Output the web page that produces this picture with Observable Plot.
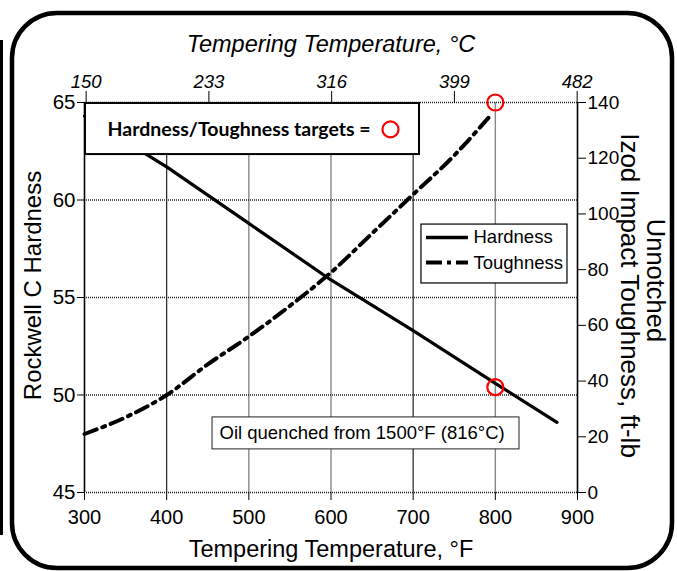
<!DOCTYPE html>
<html><head><meta charset="utf-8">
<script src="https://cdn.jsdelivr.net/npm/d3@7"></script>
<script src="https://cdn.jsdelivr.net/npm/@observablehq/plot@0.6"></script>
<style>body{margin:0;background:#fff} #chart svg{display:block}</style>
</head><body><div id="chart"></div>
<script>
// ---- data ----
const hardTempF = [300, 400, 500, 600, 700, 800, 875];
const hardness = [64.3, 61.7, 58.8, 55.9, 53.3, 50.6, 48.6];
const toughTempF = [300, 350, 400, 450, 500, 550, 600, 650, 700, 750, 793];
const toughness = [21, 27, 35, 46, 56, 67, 79, 93, 107, 121, 135];
const targetTempF = [800, 800];
const targetHardness = [50.4, null];
const targetToughness = [null, 140];
const xTicksF = [300, 400, 500, 600, 700, 800, 900];
const topTicksC = [150, 233, 316, 399, 482];
const hardTicks = [45, 50, 55, 60, 65];
const toughTicks = [0, 20, 40, 60, 80, 100, 120, 140];
const seriesNames = ["Hardness", "Toughness"];
const targetLabel = "Hardness/Toughness targets =";
const noteText = "Oil quenched from 1500°F (816°C)";

// toughness (0..140) drawn on the hardness scale (45..65)
const t2h = t => 45 + t / 7;
const h2t = h => (h - 45) * 7;
const c2f = c => c * 9 / 5 + 32;
const f2c = f => (f - 32) * 5 / 9;

const hardData = hardTempF.map((f, i) => ({f, v: hardness[i]}));
const toughData = toughTempF.map((f, i) => ({f, v: t2h(toughness[i])}));
const targetData = targetTempF.map((f, i) => ({f, v: targetHardness[i] != null ? targetHardness[i] : t2h(targetToughness[i])}));

// annotation placement (data units)
const boxTop = {x1: 301.2, x2: 707.7, y1: 64.95, y2: 62.33, tx: 328, ty: 63.62, cx: 672.4};
const boxLegend = {x1: 710.1, x2: 887.8, y1: 58.74, y2: 55.72, lx1: 716.2, lx2: 767.3, tx: 773.4, y: [58.08, 56.79]};
const boxNote = {x1: 455.8, x2: 829.4, y1: 48.85, y2: 47.21, tx: 464.3, ty: 48.03};

const font = "Liberation Sans";

const chart = Plot.plot({
  width: 677, height: 571,
  marginLeft: 84, marginRight: 100, marginTop: 102, marginBottom: 79,
  style: {fontFamily: font, fontSize: "19px", color: "#000", background: "transparent", overflow: "visible"},
  x: {domain: [300, 900]},
  y: {domain: [45, 65]},
  marks: [
    Plot.ruleX([400, 700], {stroke: "#222", strokeWidth: 1.2}),
    Plot.ruleX([500, 600, 800], {stroke: "#888", strokeWidth: 1.4}),
    Plot.ruleY(hardTicks, {stroke: "#222", strokeWidth: 1.4, strokeDasharray: "1,1"}),
    Plot.ruleX([300, 900], {stroke: "#000", strokeWidth: 1.6}),
    Plot.line(hardData, {x: "f", y: "v", stroke: "#000", strokeWidth: 3.2}),
    Plot.line(toughData, {x: "f", y: "v", stroke: "#000", strokeWidth: 4, strokeDasharray: "13,6,3,6", curve: "monotone-x"}),
    Plot.dot(targetData, {x: "f", y: "v", r: 8, stroke: "#f00", strokeWidth: 2.2, fill: "none"}),
    // targets box
    Plot.rect([boxTop], {x1: "x1", x2: "x2", y1: "y1", y2: "y2", fill: "#fff", stroke: "#000", strokeWidth: 2}),
    Plot.text([targetLabel], {x: boxTop.tx, y: boxTop.ty, textAnchor: "start", fontFamily: "Lato", fontWeight: "bold", fontSize: 19.5, fill: "#000"}),
    Plot.dot([0], {x: boxTop.cx, y: boxTop.ty, r: 8, stroke: "#f00", strokeWidth: 2.2, fill: "none"}),
    // legend
    Plot.rect([boxLegend], {x1: "x1", x2: "x2", y1: "y1", y2: "y2", fill: "#fff", stroke: "#000", strokeWidth: 1.2}),
    Plot.ruleY([boxLegend.y[0]], {x1: boxLegend.lx1, x2: boxLegend.lx2, stroke: "#000", strokeWidth: 3.5}),
    Plot.ruleY([boxLegend.y[1]], {x1: boxLegend.lx1, x2: boxLegend.lx2, stroke: "#000", strokeWidth: 4, strokeDasharray: "16,5,4,5"}),
    Plot.text(seriesNames, {x: boxLegend.tx, y: (d, i) => boxLegend.y[i], textAnchor: "start", fontFamily: font, fontSize: 18.5, fill: "#000"}),
    // note
    Plot.rect([boxNote], {x1: "x1", x2: "x2", y1: "y1", y2: "y2", fill: "#fff", stroke: "#222", strokeWidth: 1}),
    Plot.text([noteText], {x: boxNote.tx, y: boxNote.ty, textAnchor: "start", fontFamily: font, fontSize: 18.5, fill: "#000"}),
    // axes
    Plot.axisX(xTicksF, {anchor: "bottom", tickSize: 8, tickPadding: 9, fontFamily: font, fontSize: 20, label: null}),
    Plot.axisX(topTicksC.map(c2f), {anchor: "top", tickSize: 12, tickPadding: 3, fontFamily: font, fontSize: 18.5, fontStyle: "italic", tickFormat: d => Math.round(f2c(d)), label: null}),
    Plot.axisY(hardTicks, {anchor: "left", tickSize: 7, tickPadding: 2, fontFamily: font, fontSize: 20.5, label: null}),
    Plot.axisY(toughTicks.map(t2h), {anchor: "right", tickSize: 8, tickPadding: 2, fontFamily: font, fontSize: 19, tickFormat: d => Math.round(h2t(d)), label: null}),
    // titles
    Plot.text(["Tempering Temperature, °C"], {frameAnchor: "top", dy: -58, textAnchor: "middle", lineAnchor: "middle", fontFamily: font, fontSize: 23.5, fontStyle: "italic", fill: "#000"}),
    Plot.text(["Tempering Temperature, °F"], {frameAnchor: "bottom", dy: 56.5, textAnchor: "middle", lineAnchor: "middle", fontFamily: font, fontSize: 23.5, fill: "#000"}),
    Plot.text(["Rockwell C Hardness"], {frameAnchor: "left", dx: -51, dy: -12, rotate: -90, textAnchor: "middle", lineAnchor: "middle", fontFamily: font, fontSize: 24, fill: "#000"}),
    Plot.text(["Izod Impact Toughness, ft-lb"], {frameAnchor: "right", dx: 52, dy: -2, rotate: 90, textAnchor: "middle", lineAnchor: "middle", fontFamily: font, fontSize: 26, fill: "#000"}),
    Plot.text(["Unnotched"], {frameAnchor: "right", dx: 78, dy: -17, rotate: 90, textAnchor: "middle", lineAnchor: "middle", fontFamily: font, fontSize: 25.5, fill: "#000"})
  ]
});

// decorative surrounding frame (slide panel borders)
const svg = d3.select(chart);
svg.insert("rect", ":first-child")
  .attr("x", 12).attr("y", 13).attr("width", 660).attr("height", 555)
  .attr("rx", 45).attr("ry", 45)
  .attr("fill", "none").attr("stroke", "#000").attr("stroke-width", 4.5);
svg.insert("path", ":first-child")
  .attr("d", "M1.5,40 L1.5,535")
  .attr("fill", "none").attr("stroke", "#000").attr("stroke-width", 3);

document.getElementById("chart").append(chart);
</script>
</body></html>
